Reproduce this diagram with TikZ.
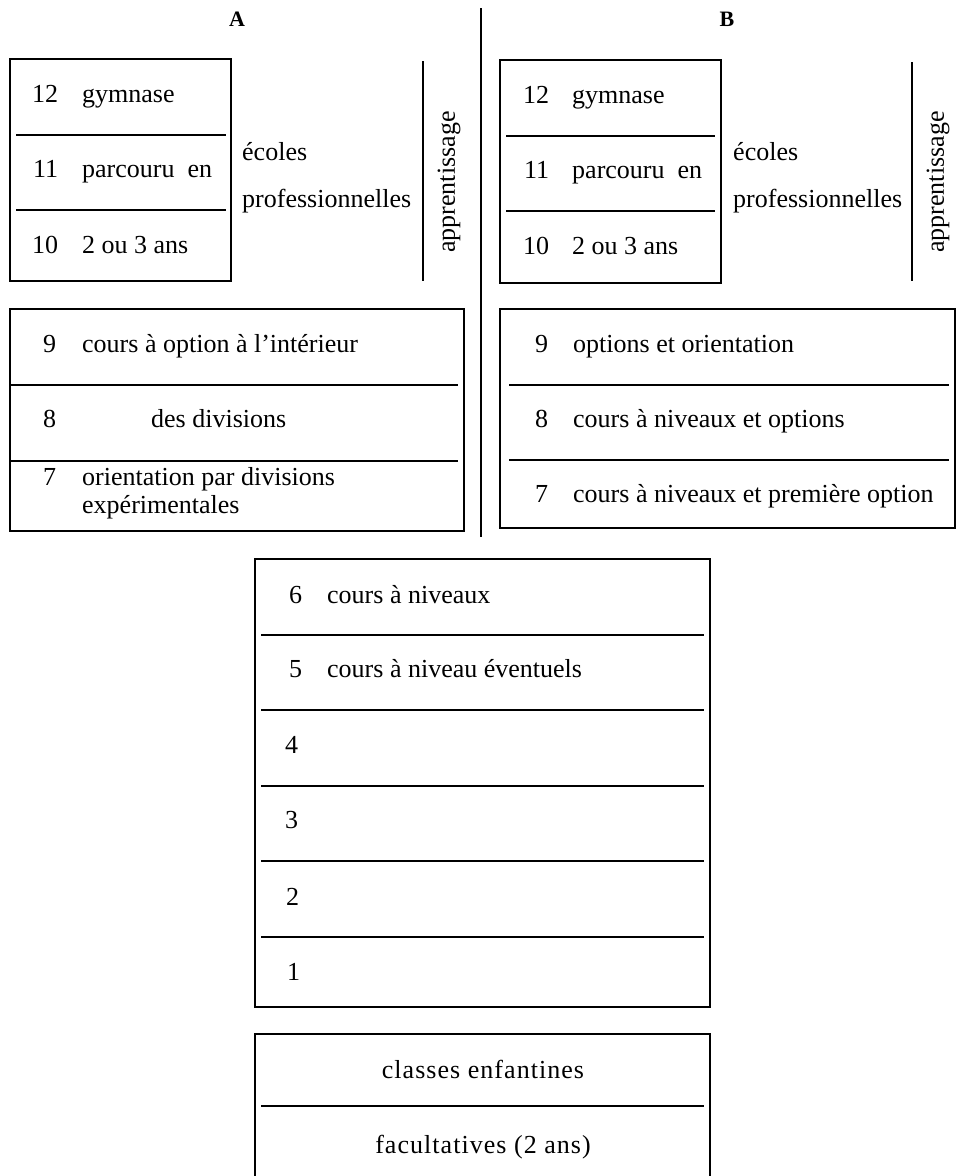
\documentclass[tikz,border=0pt]{standalone}
\usepackage{fontspec}
\setmainfont{Liberation Serif}
\begin{document}
\begin{tikzpicture}[x=1pt,y=-1pt,
  frame/.style={line width=1.3pt},
  rule/.style={line width=1.4pt},
  divider/.style={line width=2.4pt},
  txt/.style={anchor=base west,inner sep=0pt,font=\fontsize{26}{30}\selectfont},
  ctxt/.style={anchor=base,inner sep=0pt,font=\fontsize{26}{30}\selectfont\addfontfeatures{LetterSpace=4}},
  head/.style={anchor=base,inner sep=0pt,font=\fontsize{22}{26}\selectfont\bfseries},
  vtxt/.style={rotate=90,inner sep=0pt,font=\fontsize{26}{30}\selectfont}]
\useasboundingbox[fill=white] (0,0) rectangle (964,1176);

% headings and divider
\node[head] (hA) at (237,26) {A};
\node[head] (hB) at (727,26) {B};
\draw[divider] (481,8) -- (481,537);

% ---- A upper block
\draw[frame] (10,59) rectangle (231,281);
\draw[rule] (16,135) -- (226,135);
\draw[rule] (16,210) -- (226,210);
\node[txt] (a12) at (32,102) {12};
\node[txt] (a12t) at (82,102) {gymnase};
\node[txt] (a11) at (33,177) {11};
\node[txt] (a11t) at (82,177) {parcouru\ \ en};
\node[txt] (a10) at (32,253) {10};
\node[txt] (a10t) at (82,253) {2 ou 3 ans};
\node[txt] (aec) at (242,160) {écoles};
\node[txt] (apr) at (242,207) {professionnelles};
\draw[frame] (423,61) -- (423,281);
\node[vtxt] (aap) at (449,182) {apprentissage};

% ---- B upper block
\draw[frame] (500,60) rectangle (721,283);
\draw[rule] (506,136) -- (715,136);
\draw[rule] (506,211) -- (715,211);
\node[txt] (b12) at (523,103) {12};
\node[txt] (b12t) at (572,103) {gymnase};
\node[txt] (b11) at (524,178) {11};
\node[txt] (b11t) at (572,178) {parcouru\ \ en};
\node[txt] (b10) at (523,254) {10};
\node[txt] (b10t) at (572,254) {2 ou 3 ans};
\node[txt] (bec) at (733,160) {écoles};
\node[txt] (bpr) at (733,207) {professionnelles};
\draw[frame] (912,62) -- (912,281);
\node[vtxt] (bap) at (938,182) {apprentissage};

% ---- A lower block
\draw[frame] (10,309) rectangle (464,531);
\draw[rule] (10,385) -- (458,385);
\draw[rule] (10,461) -- (458,461);
\node[txt] (a9) at (43,352) {9};
\node[txt] (a9t) at (82,352) {cours à option à l’intérieur};
\node[txt] (a8) at (43,427) {8};
\node[txt] (a8t) at (151,427) {des divisions};
\node[txt] (a7) at (43,485) {7};
\node[txt] (a7t) at (82,485) {orientation par divisions};
\node[txt] (a7u) at (82,513) {expérimentales};

% ---- B lower block
\draw[frame] (500,309) rectangle (955,528);
\draw[rule] (509,385) -- (949,385);
\draw[rule] (509,460) -- (949,460);
\node[txt] (b9) at (535,352) {9};
\node[txt] (b9t) at (573,352) {options et orientation};
\node[txt] (b8) at (535,427) {8};
\node[txt] (b8t) at (573,427) {cours à niveaux et options};
\node[txt] (b7) at (535,502) {7};
\node[txt] (b7t) at (573,502) {cours à niveaux et première option};

% ---- common block 1-6
\draw[frame] (255,559) rectangle (710,1007);
\foreach \yy in {635,710,786,861,937} \draw[rule] (261,\yy) -- (704,\yy);
\node[txt] (c6) at (289,603) {6};
\node[txt] (c6t) at (327,603) {cours à niveaux};
\node[txt] (c5) at (289,677) {5};
\node[txt] (c5t) at (327,677) {cours à niveau éventuels};
\node[txt] (c4) at (285,753) {4};
\node[txt] (c3) at (285,828) {3};
\node[txt] (c2) at (286,905) {2};
\node[txt] (c1) at (287,980) {1};

% ---- kindergarten
\draw[frame] (255,1180) -- (255,1034) -- (710,1034) -- (710,1180);
\draw[rule] (261,1106) -- (704,1106);
\node[ctxt] (k1) at (483,1078) {classes enfantines};
\node[ctxt] (k2) at (483,1153) {facultatives (2 ans)};
\end{tikzpicture}
\end{document}
